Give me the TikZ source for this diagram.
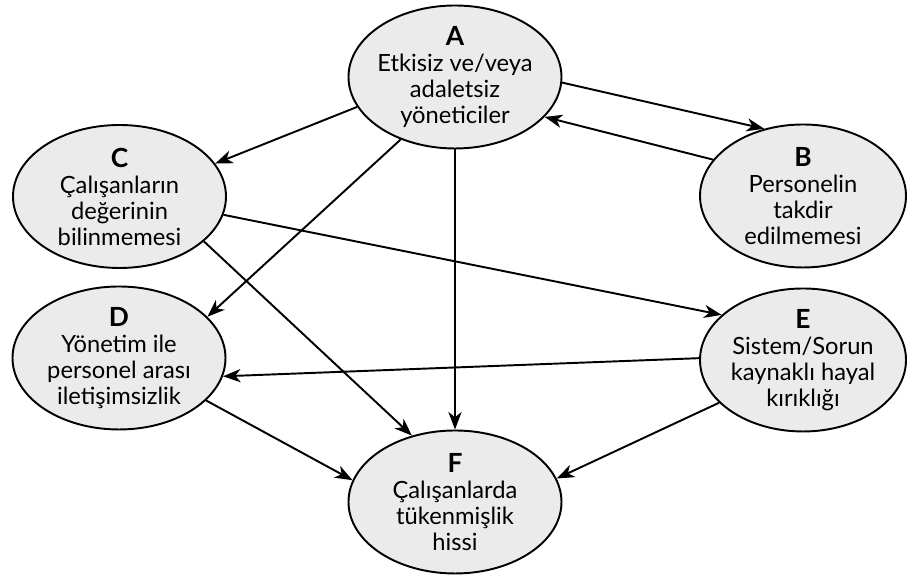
\documentclass[tikz,border=0pt]{standalone}
\usepackage{fontspec}
\setmainfont{Lato}
\usetikzlibrary{arrows.meta,shapes.geometric}
\definecolor{blobgray}{RGB}{235,235,235}
\newcommand{\tag}[1]{{\fontsize{15}{16}\selectfont\bfseries #1}}

\begin{document}
\begin{tikzpicture}[
	blob/.style={draw, line width=1.1pt, fill=blobgray, ellipse, minimum width=4.26cm, minimum height=2.86cm,
		inner xsep=-0.6cm, inner ysep=-0.4cm, align=center, font=\fontsize{13.5}{14.8}\selectfont},
	link/.style={line width=1.1pt, -{Stealth[length=10pt, width=7.5pt, inset=3pt]}}
]

\path [use as bounding box] (0,0) rectangle (18.2,11.5);

% NODES
\node [blob] (A) at (9.10,9.96) {\tag{A}\\Etkisiz ve/veya\\adaletsiz\\yöneticiler};
\node [blob, minimum width=4.12cm] (B) at (16.06,7.58) {\tag{B}\\Personelin\\takdir\\edilmemesi};
\node [blob] (C) at (2.39,7.57) {\tag{C}\\Çalışanların\\değerinin\\bilinmemesi};
\node [blob] (D) at (2.38,4.34) {\tag{D}\\Yönetim ile\\personel arası\\iletişimsizlik};
\node [blob, minimum width=4.12cm] (E) at (16.06,4.30) {\tag{E}\\Sistem/Sorun\\kaynaklı hayal\\kırıklığı};
\node [blob] (F) at (9.10,1.46) {\tag{F}\\Çalışanlarda\\tükenmişlik\\hissi};

% ARROWS
\draw [link] (A.-3) -- (B.120);
\draw [link] (B.158) -- (A.-24);
\draw [link] (A.197) -- (C.19);
\draw [link] (A.229) -- (D.25);
\draw [link] (A.south) -- (F.north);
\draw [link] (C.-10) -- (E.151);
\draw [link] (C.-28) -- (F.123);
\draw [link] (E.179) -- (D.-10);
\draw [link] (D.-26) -- (F.168);
\draw [link] (E.207) -- (F.13);

\end{tikzpicture}
\end{document}
